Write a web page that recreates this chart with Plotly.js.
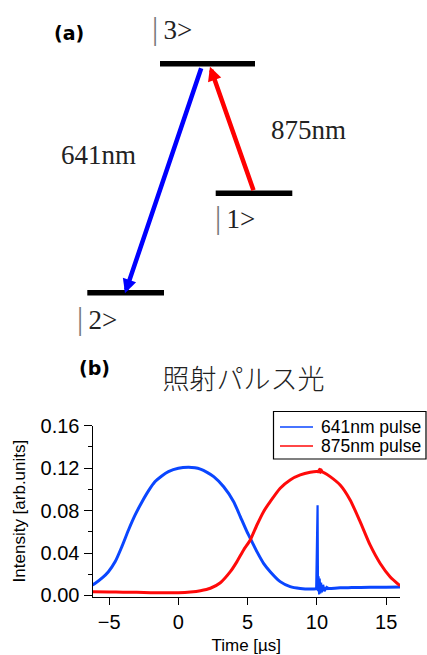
<!DOCTYPE html>
<html>
<head>
<meta charset="utf-8">
<script src="https://cdn.plot.ly/plotly-3.0.1.min.js"></script>
<style>html,body{margin:0;padding:0;background:#fff;}#chart{width:427px;height:655px;}</style>
</head>
<body>
<div id="chart"></div>
<script>
// ---------- (b) pulse data ----------
const blueTime = [-6.2,-6.0,-5.5,-5.05,-4.56,-4.08,-3.6,-3.12,-2.64,-2.16,-1.68,-1.2,-0.72,0,0.72,1.2,1.59,2.07,2.55,3.27,3.99,4.47,4.95,5.31,5.67,6.15,6.63,7.35,8.07,8.8,9.52,9.95,10.0,10.02,10.05,10.08,10.12,10.16,10.2,10.25,10.3,10.36,10.45,10.55,10.7,10.9,11.68,12.5,13.84,15.0,16.0];
const blueValue = [0.0100,0.0115,0.0165,0.0224,0.0319,0.0460,0.0617,0.0759,0.0878,0.0985,0.1073,0.1126,0.1167,0.1199,0.1208,0.1203,0.1190,0.1160,0.1120,0.1025,0.0884,0.0743,0.0601,0.0507,0.0413,0.0303,0.0224,0.0130,0.0083,0.0066,0.0060,0.0062,0.063,0.045,0.085,0.004,0.018,0.001,0.016,0.002,0.012,0.003,0.010,0.004,0.008,0.0065,0.0072,0.0074,0.0077,0.0078,0.0080];
const redTime = [-6.2,-5,-4,-3,-2,-1,0,0.87,1.59,2.31,3.03,3.75,4.23,4.71,5.19,5.67,6.15,6.63,7.35,8.07,8.8,9.52,10.0,10.1,10.2,10.25,10.3,10.4,10.5,10.96,11.68,12.4,13.12,13.84,14.56,15.28,16.0];
const redValue = [0.0035,0.0033,0.0031,0.0029,0.0026,0.0025,0.0026,0.0033,0.0045,0.0068,0.0120,0.0224,0.0319,0.0429,0.0523,0.0664,0.0790,0.0884,0.1010,0.1089,0.1136,0.1161,0.1168,0.1165,0.1190,0.1160,0.1185,0.1163,0.1158,0.1120,0.1041,0.0900,0.0696,0.0476,0.0304,0.0177,0.0092];
const seriesNames = ['641nm pulse','875nm pulse'];
const seriesColors = ['#0a46ff','#ff0a0a'];
const xTickVals = [-5,0,5,10,15];
const spikeStart = 9.95, spikeEnd = 10.9;

// ---------- (a) level diagram ----------
const levelLabels = ['|1>','|2>','|3>'];
const levelX0 = [215.7, 87.3, 160];
const levelX1 = [292.3, 164, 255];
const levelH  = [146.7, 47.3, 276.3];
const labelX  = [213, 75, 150];
const labelH  = [123, 22, 312];
const transitionNames = ['641nm','875nm'];
const transFromX = [201.7, 254];
const transFromH = [273.3, 148.3];
const transToX   = [125, 210];
const transToH   = [46.7, 273.3];
const transLabelX = [98, 308];
const transLabelH = [185, 210];
const transColors = ['#0000ff','#ff0000'];

const traces = [];
// blue: smooth envelope (spline) + spike section (linear)
const bSmoothX = [], bSmoothY = [], bSpikeX = [], bSpikeY = [];
blueTime.forEach((t,i)=>{
  if (t <= spikeStart || t >= spikeEnd) { bSmoothX.push(t); bSmoothY.push(blueValue[i]); }
  if (t >= spikeStart && t <= spikeEnd) { bSpikeX.push(t); bSpikeY.push(blueValue[i]); }
});
traces.push({x: bSmoothX, y: bSmoothY, type:'scatter', mode:'lines', line:{color:seriesColors[0], width:3, shape:'spline', smoothing:0.6}, showlegend:false, xaxis:'x', yaxis:'y'});
traces.push({x: bSpikeX, y: bSpikeY, type:'scatter', mode:'lines', line:{color:seriesColors[0], width:2.2}, showlegend:false, xaxis:'x', yaxis:'y'});
traces.push({x: redTime, y: redValue, type:'scatter', mode:'lines', line:{color:seriesColors[1], width:3, shape:'spline', smoothing:0.6}, showlegend:false, xaxis:'x', yaxis:'y'});

// levels
const lx = [], ly = [];
levelLabels.forEach((l,i)=>{ lx.push(levelX0[i], levelX1[i], null); ly.push(levelH[i], levelH[i], null); });
traces.push({x: lx, y: ly, type:'scatter', mode:'lines', line:{color:'#000', width:5.5}, showlegend:false, hoverinfo:'skip', xaxis:'x2', yaxis:'y2'});

const annotations = [];
const shapes = [];
levelLabels.forEach((l,i)=>annotations.push({
  xref:'x2', yref:'y2', x:labelX[i], y:labelH[i], xanchor:'left', yanchor:'middle', showarrow:false,
  text:"<span style='color:#777;font-size:31px'>|</span>\u2009" + l.slice(1),
  font:{family:'Liberation Serif', size:27, color:'#222'}
}));
transitionNames.forEach((n,i)=>{
  annotations.push({xref:'x2', yref:'y2', axref:'x2', ayref:'y2', x:transToX[i], y:transToH[i], ax:transFromX[i], ay:transFromH[i],
    text:'', showarrow:true, arrowhead:2, arrowsize:0.62, arrowwidth:4.5, arrowcolor:transColors[i], standoff:0});
  annotations.push({xref:'x2', yref:'y2', x:transLabelX[i], y:transLabelH[i], showarrow:false, text:n,
    font:{family:'Liberation Serif', size:27, color:'#222'}});
});
annotations.push({xref:'x2', yref:'y2', x:69, y:307, showarrow:false, text:'<b>(a)</b>', font:{family:'DejaVu Sans', size:19, color:'#000'}});
annotations.push({xref:'paper', yref:'paper', x:77/427, y:(655-368)/655, showarrow:false, text:'<b>(b)</b>', font:{family:'DejaVu Sans', size:19, color:'#000'}});

// legend box (drawn in paper pixels)
const W = 427, H = 655;
const px = v => v / W, py = v => (H - v) / H;
shapes.push({type:'rect', xref:'paper', yref:'paper', x0:px(273.5), x1:px(426), y0:py(411.5), y1:py(459), line:{color:'#000', width:1.2}, fillcolor:'#fff', layer:'above'});
seriesNames.forEach((n,i)=>{
  const yy = 427 + i*19;
  shapes.push({type:'line', xref:'paper', yref:'paper', x0:px(280), x1:px(313), y0:py(yy), y1:py(yy), line:{color:seriesColors[i], width:1.6}, layer:'above'});
  annotations.push({xref:'paper', yref:'paper', x:px(319), y:py(yy), xanchor:'left', yanchor:'middle', showarrow:false, text:n,
    font:{family:'Liberation Sans', size:17.5, color:'#000'}});
});

const layout = {
  width:W, height:H, margin:{l:0,r:0,t:0,b:0}, paper_bgcolor:'#fff', plot_bgcolor:'rgba(0,0,0,0)',
  title:{text:'照射パルス光', font:{family:'Noto Sans CJK JP', size:27, color:'#222', weight:300}, x:243.5/427, xanchor:'center', y:(655-380)/655, yanchor:'middle', xref:'paper', yref:'paper'},
  xaxis:{domain:[92.5/427, 400/427], range:[-6.2,16], tickmode:'array', tickvals:xTickVals, ticks:'outside', ticklen:7, tickcolor:'#000',
    showline:true, linecolor:'#000', linewidth:1, showgrid:false, zeroline:false, anchor:'y',
    tickfont:{family:'Liberation Sans', size:20, color:'#000'},
    title:{text:'Time [µs]', font:{family:'Liberation Sans', size:17, color:'#000'}, standoff:9}},
  yaxis:{domain:[(655-596.5)/655, (655-425.7)/655], range:[-0.001,0.16], tickmode:'linear', tick0:0, dtick:0.04, tickformat:'.2f',
    ticks:'outside', ticklen:8, tickcolor:'#000', showline:true, linecolor:'#000', linewidth:1, showgrid:false, zeroline:false, anchor:'x',
    minor:{tickmode:'linear', tick0:0, dtick:0.02, ticks:'outside', ticklen:4, tickcolor:'#000', showgrid:false},
    tickfont:{family:'Liberation Sans', size:20, color:'#000'},
    title:{text:'Intensity [arb.units]', font:{family:'Liberation Sans', size:17, color:'#000'}, standoff:10}},
  xaxis2:{domain:[0,1], range:[0,427], visible:false, anchor:'y2'},
  yaxis2:{domain:[(655-340)/655, 1], range:[0,340], visible:false, anchor:'x2'},
  annotations: annotations,
  shapes: shapes,
  showlegend:false
};
Plotly.newPlot('chart', traces, layout, {staticPlot:true, displayModeBar:false});
</script>
</body>
</html>
